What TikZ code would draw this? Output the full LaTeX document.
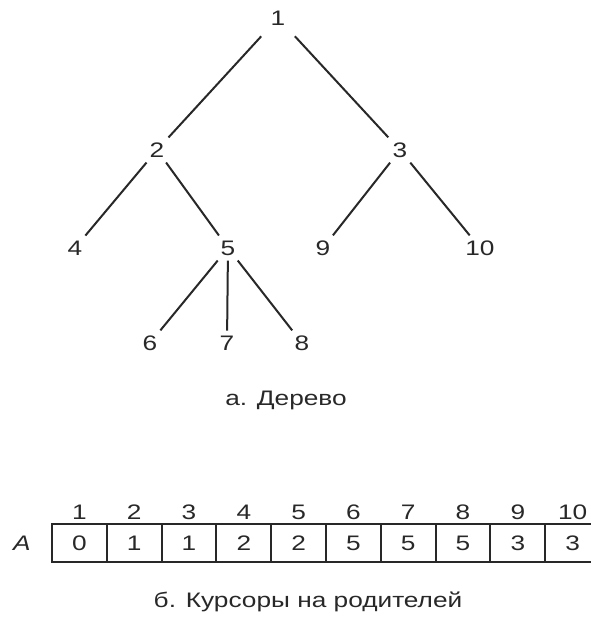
\documentclass[tikz,border=0pt]{standalone}
\usepackage{fontspec}
\setmainfont{Liberation Sans}[FakeStretch=1.25]
\usetikzlibrary{positioning}
\definecolor{InkGray}{RGB}{40,40,40}

\begin{document}
\begin{tikzpicture}[
    x=1pt, y=-1pt,
    node distance=0pt,
    vertex/.style={inner sep=5pt, font=\fontsize{21}{21}\selectfont, text=InkGray},
    branch/.style={line width=2pt, draw=InkGray},
    cell/.style={rectangle, draw=InkGray, line width=2pt, outer sep=0pt, inner sep=0pt,
        minimum width=54.8pt, minimum height=38pt, font=\fontsize{21}{21}\selectfont, text=InkGray},
    index/.style={inner sep=2pt, font=\fontsize{21}{21}\selectfont, text=InkGray},
    caption/.style={anchor=base, font=\fontsize{21}{21}\selectfont, text=InkGray},
]
\useasboundingbox (0,0) rectangle (591,619);

% a. tree
\node[vertex] (n1) at (278,18) {1};
\node[vertex] (n2) at (157,150) {2};
\node[vertex] (n3) at (400,150) {3};
\node[vertex] (n4) at (75,248) {4};
\node[vertex] (n5) at (228,248) {5};
\node[vertex] (n9) at (323,248) {9};
\node[vertex] (n10) at (480,248) {10};
\node[vertex] (n6) at (150,343) {6};
\node[vertex] (n7) at (227,343) {7};
\node[vertex] (n8) at (302,343) {8};

\draw[branch, shorten <=8pt] (n1) -- (n2);
\draw[branch, shorten <=8pt] (n1) -- (n3);
\draw[branch] (n2) -- (n4);
\draw[branch] (n2) -- (n5);
\draw[branch] (n3) -- (n9);
\draw[branch] (n3) -- (n10);
\draw[branch] (n5) -- (n6);
\draw[branch] (n5) -- (n7);
\draw[branch] (n5) -- (n8);

\node[caption] (capa) at (286,405) {а. Дерево};

% b. parent cursors
\node[cell] (a1) at (79.4,543) {0};
\node[cell, right=of a1] (a2) {1};
\node[cell, right=of a2] (a3) {1};
\node[cell, right=of a3] (a4) {2};
\node[cell, right=of a4] (a5) {2};
\node[cell, right=of a5] (a6) {5};
\node[cell, right=of a6] (a7) {5};
\node[cell, right=of a7] (a8) {5};
\node[cell, right=of a8] (a9) {3};
\node[cell, right=of a9] (a10) {3};

\node[index, above=2pt of a1] {1};
\node[index, above=2pt of a2] {2};
\node[index, above=2pt of a3] {3};
\node[index, above=2pt of a4] {4};
\node[index, above=2pt of a5] {5};
\node[index, above=2pt of a6] {6};
\node[index, above=2pt of a7] {7};
\node[index, above=2pt of a8] {8};
\node[index, above=2pt of a9] {9};
\node[index, above=2pt of a10] {10};

\node[vertex, font=\fontsize{21}{21}\selectfont\itshape] (arr) at (22,543) {A};

\node[caption] (capb) at (308,607) {б. Курсоры на родителей};
\end{tikzpicture}
\end{document}
